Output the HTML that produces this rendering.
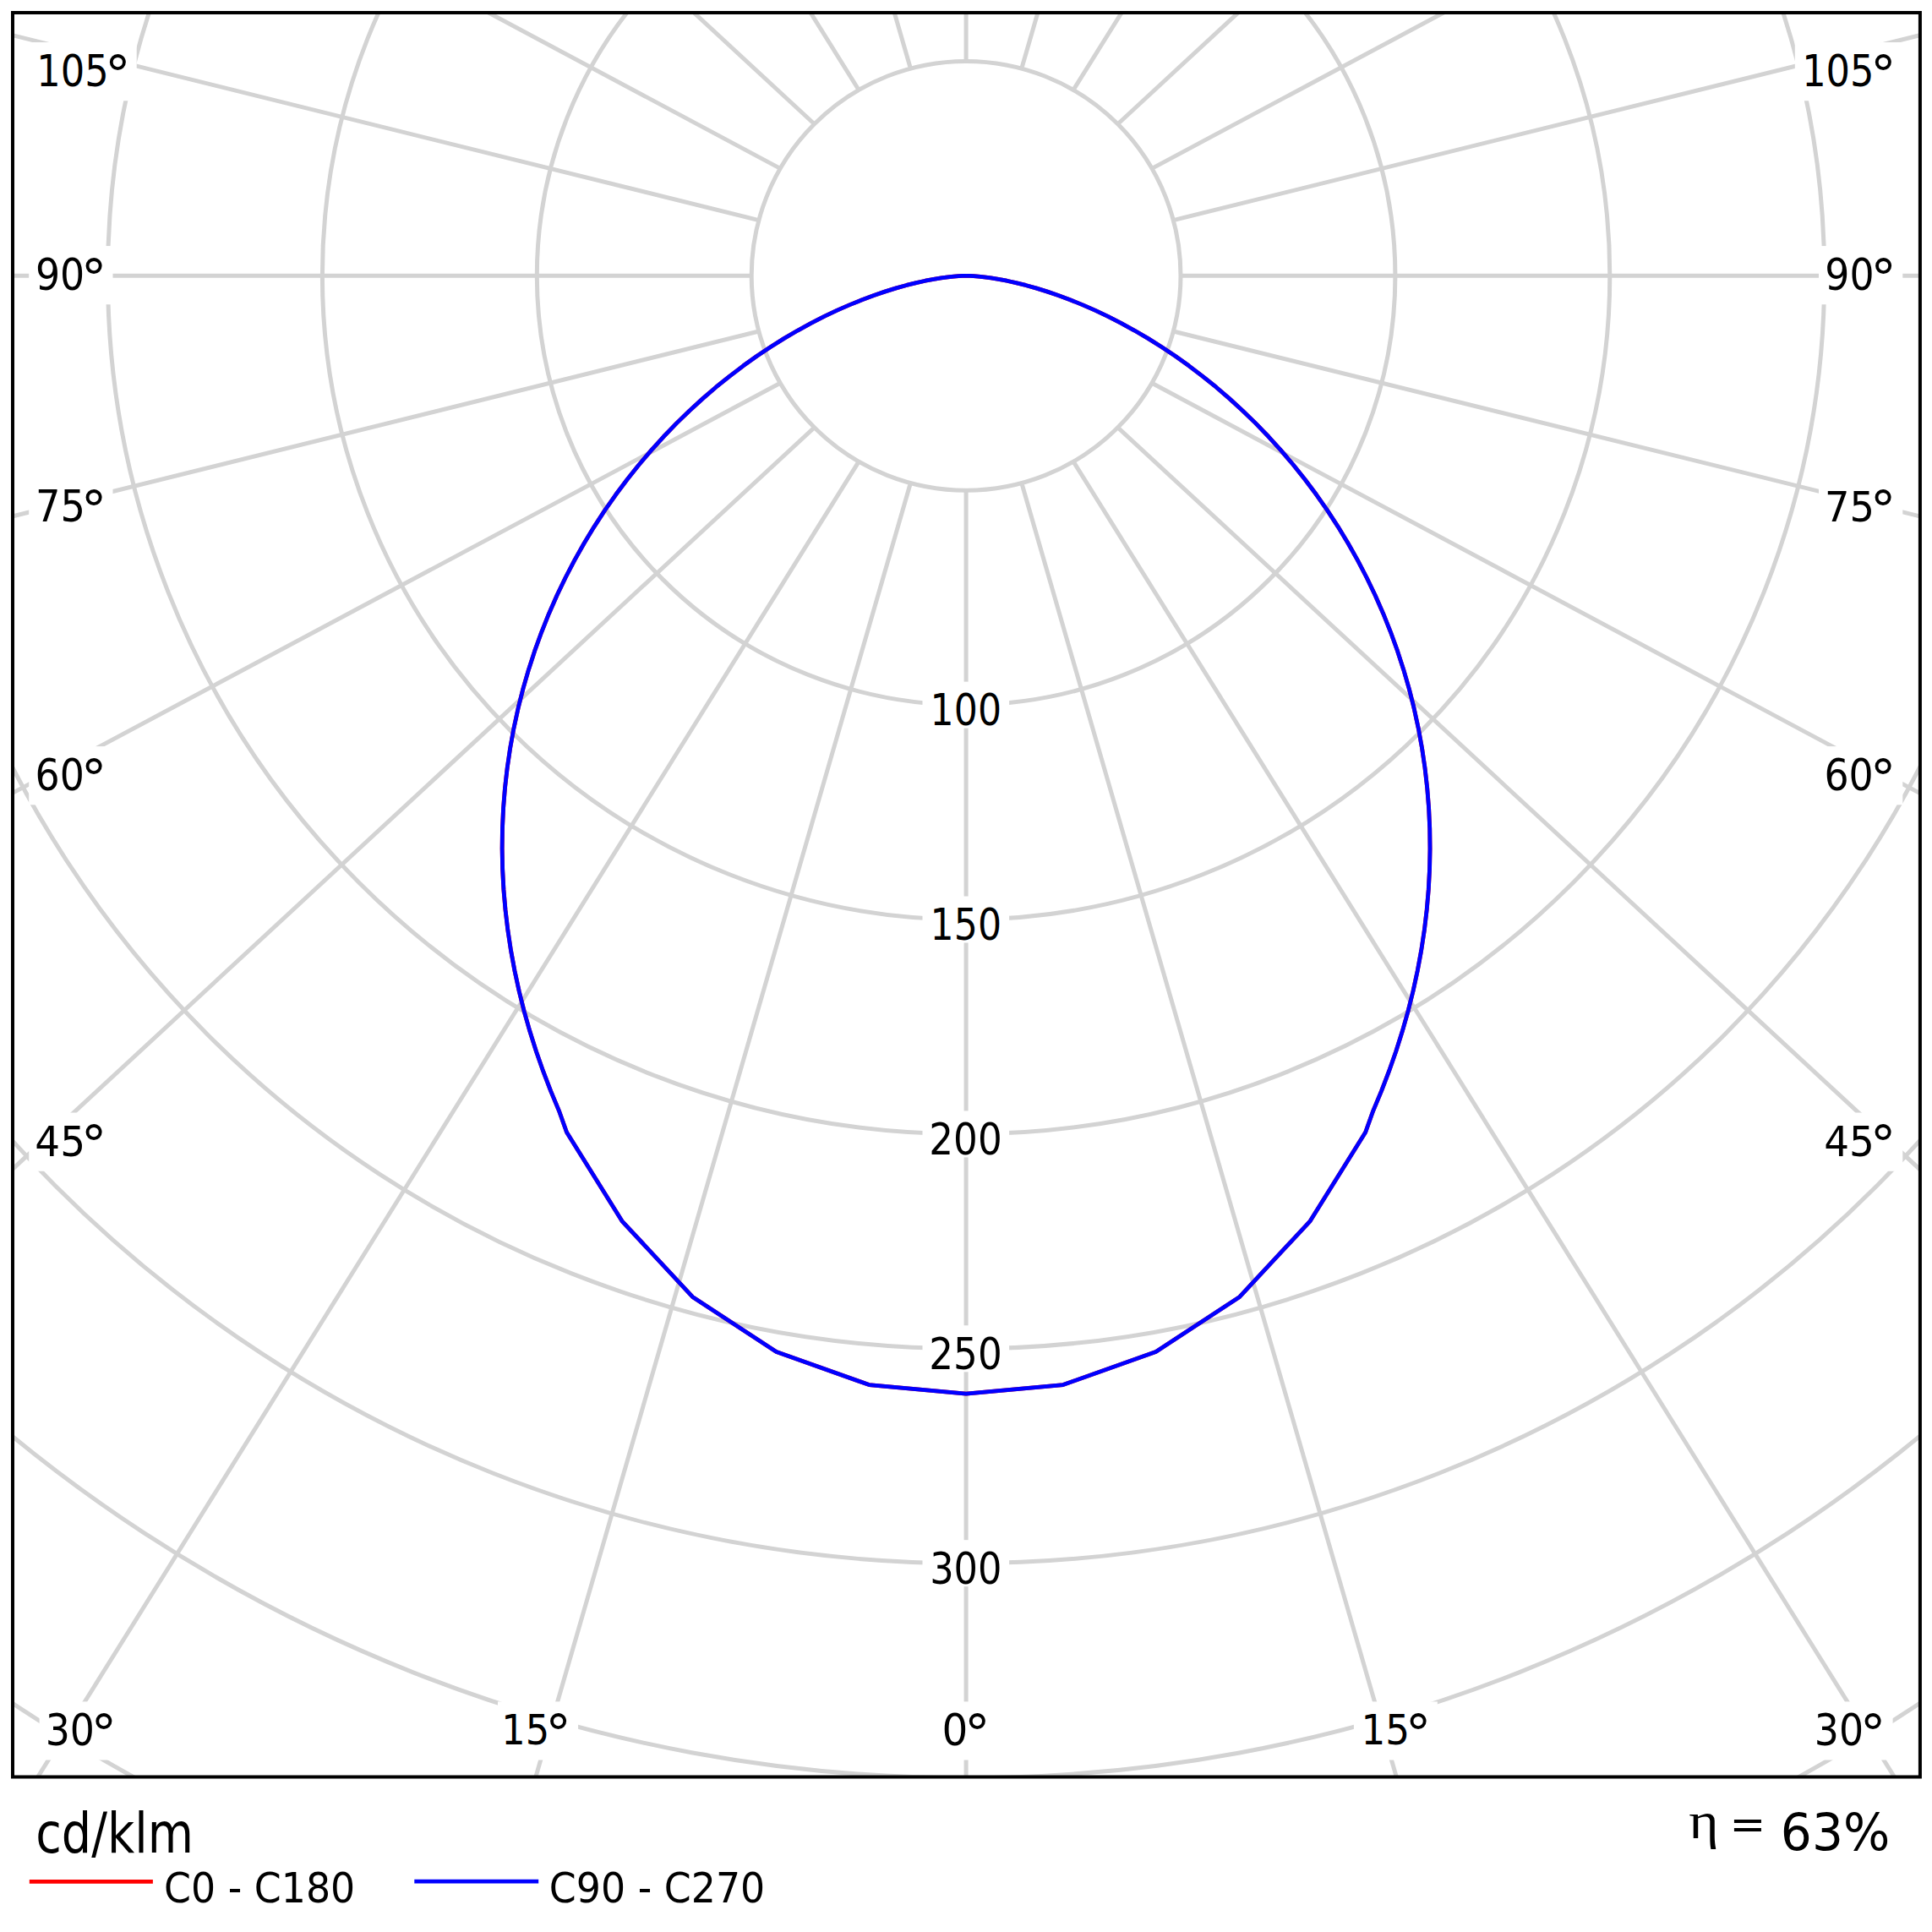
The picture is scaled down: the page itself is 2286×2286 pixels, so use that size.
<!DOCTYPE html><html><head><meta charset="utf-8"><title>Polar diagram</title>
<style>html,body{margin:0;padding:0;background:#fff;}svg{display:block;}</style></head><body>
<svg width="2286" height="2286" viewBox="0 0 2286 2286">
<rect width="2286" height="2286" fill="#fff"/>
<defs><clipPath id="c"><rect x="15" y="15" width="2256.9" height="2087.5"/></clipPath></defs>
<g clip-path="url(#c)" fill="none" stroke="#d3d3d3" stroke-width="5">
<circle cx="1143.1" cy="326.3" r="253.9"/>
<circle cx="1143.1" cy="326.3" r="507.8"/>
<circle cx="1143.1" cy="326.3" r="761.7"/>
<circle cx="1143.1" cy="326.3" r="1015.6"/>
<circle cx="1143.1" cy="326.3" r="1269.5"/>
<circle cx="1143.1" cy="326.3" r="1523.4"/>
<circle cx="1143.1" cy="326.3" r="1777.3"/>
<circle cx="1143.1" cy="326.3" r="2031.2"/>
<circle cx="1143.1" cy="326.3" r="2285.1"/>
<line x1="1143.1" y1="580.2" x2="1143.1" y2="3580.2"/>
<line x1="1208.81" y1="571.55" x2="2043.52" y2="3453.09"/>
<line x1="1270.05" y1="546.18" x2="2858.51" y2="3091.14"/>
<line x1="1322.63" y1="505.83" x2="3524.93" y2="2542.96"/>
<line x1="1362.98" y1="453.25" x2="4009.26" y2="1866.49"/>
<line x1="1388.35" y1="392.01" x2="4300.24" y2="1113.74"/>
<line x1="1397" y1="326.3" x2="4397" y2="326.3"/>
<line x1="1388.35" y1="260.59" x2="4300.24" y2="-461.14"/>
<line x1="1362.98" y1="199.35" x2="4009.26" y2="-1213.89"/>
<line x1="1322.63" y1="146.77" x2="3524.93" y2="-1890.36"/>
<line x1="1270.05" y1="106.42" x2="2858.51" y2="-2438.54"/>
<line x1="1208.81" y1="81.05" x2="2043.52" y2="-2800.49"/>
<line x1="1143.1" y1="72.4" x2="1143.1" y2="-2927.6"/>
<line x1="1077.39" y1="81.05" x2="242.68" y2="-2800.49"/>
<line x1="1016.15" y1="106.42" x2="-572.31" y2="-2438.54"/>
<line x1="963.57" y1="146.77" x2="-1238.73" y2="-1890.36"/>
<line x1="923.22" y1="199.35" x2="-1723.06" y2="-1213.89"/>
<line x1="897.85" y1="260.59" x2="-2014.04" y2="-461.14"/>
<line x1="889.2" y1="326.3" x2="-2110.8" y2="326.3"/>
<line x1="897.85" y1="392.01" x2="-2014.04" y2="1113.74"/>
<line x1="923.22" y1="453.25" x2="-1723.06" y2="1866.49"/>
<line x1="963.57" y1="505.83" x2="-1238.73" y2="2542.96"/>
<line x1="1016.15" y1="546.18" x2="-572.31" y2="3091.14"/>
<line x1="1077.39" y1="571.55" x2="242.68" y2="3453.09"/>
</g>
<g fill="#fff">
<rect x="34.2" y="50.05" width="127.5" height="69.2"/>
<rect x="2123.8" y="50.05" width="127.5" height="69.2"/>
<rect x="34.2" y="291.05" width="99.3" height="69.2"/>
<rect x="2152" y="291.05" width="99.3" height="69.2"/>
<rect x="34.2" y="565.2" width="99.3" height="69.2"/>
<rect x="2152" y="565.2" width="99.3" height="69.2"/>
<rect x="34.2" y="883.1" width="99.3" height="69.2"/>
<rect x="2152" y="883.1" width="99.3" height="69.2"/>
<rect x="34.2" y="1316.55" width="99.3" height="69.2"/>
<rect x="2152" y="1316.55" width="99.3" height="69.2"/>
<rect x="46.6" y="2013.4" width="99.3" height="69.1"/>
<rect x="589" y="2013.4" width="95.1" height="69.1"/>
<rect x="1107" y="2013.4" width="71" height="69.1"/>
<rect x="1601.9" y="2013.4" width="98.9" height="69.1"/>
<rect x="2140.3" y="2013.4" width="99.3" height="69.1"/>
<rect x="1091.5" y="806.6" width="102.6" height="55"/>
<rect x="1091.5" y="1060.5" width="102.6" height="55"/>
<rect x="1091.5" y="1314.4" width="102.6" height="55"/>
<rect x="1091.5" y="1568.3" width="102.6" height="55"/>
<rect x="1091.5" y="1822.2" width="102.6" height="55"/>
</g>
<polyline fill="none" stroke="#ff0000" stroke-width="4.8" stroke-linejoin="round" points="1143.1,326.3 1138.81,326.37 1134.22,326.61 1128.46,327.07 1121.58,327.8 1113.65,328.88 1104.74,330.33 1094.9,332.22 1084.19,334.58 1072.7,337.45 1060.46,340.87 1047.57,344.87 1034.06,349.48 1020.02,354.72 1005.5,360.61 990.56,367.17 975.27,374.42 959.69,382.37 943.88,391.03 927.89,400.4 911.79,410.49 895.63,421.29 879.47,432.81 863.35,445.04 847.34,457.98 831.49,471.61 815.83,485.92 800.42,500.9 785.31,516.54 770.53,532.82 756.14,549.71 742.16,567.21 728.64,585.28 715.61,603.91 703.11,623.08 691.17,642.74 679.82,662.9 669.08,683.5 658.98,704.54 649.55,725.97 640.8,747.78 632.76,769.93 625.45,792.4 618.87,815.15 613.05,838.16 607.99,861.41 603.71,884.85 600.21,908.48 597.5,932.25 595.59,956.14 594.47,980.13 594.15,1004.19 594.64,1028.3 595.92,1052.43 598,1076.56 600.87,1100.68 604.54,1124.75 608.98,1148.77 614.2,1172.72 620.19,1196.57 626.94,1220.32 634.44,1243.95 642.68,1267.46 651.65,1290.83 661.34,1314.05 670.54,1339.71 736,1444.8 819.39,1534.39 918.6,1599.52 1028.3,1638.52 1143.1,1649.12 1257.9,1638.52 1367.6,1599.52 1466.81,1534.39 1550.2,1444.8 1615.66,1339.71 1624.86,1314.05 1634.55,1290.83 1643.52,1267.46 1651.76,1243.95 1659.26,1220.32 1666.01,1196.57 1672,1172.72 1677.22,1148.77 1681.66,1124.75 1685.33,1100.68 1688.2,1076.56 1690.28,1052.43 1691.56,1028.3 1692.05,1004.19 1691.73,980.13 1690.61,956.14 1688.7,932.25 1685.99,908.48 1682.49,884.85 1678.21,861.41 1673.15,838.16 1667.33,815.15 1660.75,792.4 1653.44,769.93 1645.4,747.78 1636.65,725.97 1627.22,704.54 1617.12,683.5 1606.38,662.9 1595.03,642.74 1583.09,623.08 1570.59,603.91 1557.56,585.28 1544.04,567.21 1530.06,549.71 1515.67,532.82 1500.89,516.54 1485.78,500.9 1470.37,485.92 1454.71,471.61 1438.86,457.98 1422.85,445.04 1406.73,432.81 1390.57,421.29 1374.41,410.49 1358.31,400.4 1342.32,391.03 1326.51,382.37 1310.93,374.42 1295.64,367.17 1280.7,360.61 1266.18,354.72 1252.14,349.48 1238.63,344.87 1225.74,340.87 1213.5,337.45 1202.01,334.58 1191.3,332.22 1181.46,330.33 1172.55,328.88 1164.62,327.8 1157.74,327.07 1151.98,326.61 1147.39,326.37 1143.1,326.3"/>
<polyline fill="none" stroke="#0000ff" stroke-width="4.8" stroke-linejoin="round" points="1143.1,326.3 1138.81,326.37 1134.22,326.61 1128.46,327.07 1121.58,327.8 1113.65,328.88 1104.74,330.33 1094.9,332.22 1084.19,334.58 1072.7,337.45 1060.46,340.87 1047.57,344.87 1034.06,349.48 1020.02,354.72 1005.5,360.61 990.56,367.17 975.27,374.42 959.69,382.37 943.88,391.03 927.89,400.4 911.79,410.49 895.63,421.29 879.47,432.81 863.35,445.04 847.34,457.98 831.49,471.61 815.83,485.92 800.42,500.9 785.31,516.54 770.53,532.82 756.14,549.71 742.16,567.21 728.64,585.28 715.61,603.91 703.11,623.08 691.17,642.74 679.82,662.9 669.08,683.5 658.98,704.54 649.55,725.97 640.8,747.78 632.76,769.93 625.45,792.4 618.87,815.15 613.05,838.16 607.99,861.41 603.71,884.85 600.21,908.48 597.5,932.25 595.59,956.14 594.47,980.13 594.15,1004.19 594.64,1028.3 595.92,1052.43 598,1076.56 600.87,1100.68 604.54,1124.75 608.98,1148.77 614.2,1172.72 620.19,1196.57 626.94,1220.32 634.44,1243.95 642.68,1267.46 651.65,1290.83 661.34,1314.05 670.54,1339.71 736,1444.8 819.39,1534.39 918.6,1599.52 1028.3,1638.52 1143.1,1649.12 1257.9,1638.52 1367.6,1599.52 1466.81,1534.39 1550.2,1444.8 1615.66,1339.71 1624.86,1314.05 1634.55,1290.83 1643.52,1267.46 1651.76,1243.95 1659.26,1220.32 1666.01,1196.57 1672,1172.72 1677.22,1148.77 1681.66,1124.75 1685.33,1100.68 1688.2,1076.56 1690.28,1052.43 1691.56,1028.3 1692.05,1004.19 1691.73,980.13 1690.61,956.14 1688.7,932.25 1685.99,908.48 1682.49,884.85 1678.21,861.41 1673.15,838.16 1667.33,815.15 1660.75,792.4 1653.44,769.93 1645.4,747.78 1636.65,725.97 1627.22,704.54 1617.12,683.5 1606.38,662.9 1595.03,642.74 1583.09,623.08 1570.59,603.91 1557.56,585.28 1544.04,567.21 1530.06,549.71 1515.67,532.82 1500.89,516.54 1485.78,500.9 1470.37,485.92 1454.71,471.61 1438.86,457.98 1422.85,445.04 1406.73,432.81 1390.57,421.29 1374.41,410.49 1358.31,400.4 1342.32,391.03 1326.51,382.37 1310.93,374.42 1295.64,367.17 1280.7,360.61 1266.18,354.72 1252.14,349.48 1238.63,344.87 1225.74,340.87 1213.5,337.45 1202.01,334.58 1191.3,332.22 1181.46,330.33 1172.55,328.88 1164.62,327.8 1157.74,327.07 1151.98,326.61 1147.39,326.37 1143.1,326.3"/>
<rect x="15" y="15" width="2256.9" height="2087.5" fill="none" stroke="#000" stroke-width="4"/>
<g fill="#000">
<text transform="matrix(0.84 0 0 0.96 43.25 101.64)" font-family="DejaVu Sans, sans-serif" font-size="53.3">105</text>
<text transform="matrix(0.99 0 0 0.99 123.96 109.82)" font-family="DejaVu Sans, sans-serif" font-size="62">°</text>
<text transform="matrix(0.86 0 0 0.97 41.93 342.93)" font-family="DejaVu Sans, sans-serif" font-size="53.3">90</text>
<text transform="matrix(0.99 0 0 0.99 95.86 350.52)" font-family="DejaVu Sans, sans-serif" font-size="62">°</text>
<text transform="matrix(0.87 0 0 0.97 42.02 617.03)" font-family="DejaVu Sans, sans-serif" font-size="53.3">75</text>
<text transform="matrix(0.99 0 0 0.99 95.86 624.72)" font-family="DejaVu Sans, sans-serif" font-size="62">°</text>
<text transform="matrix(0.86 0 0 0.97 41.55 934.93)" font-family="DejaVu Sans, sans-serif" font-size="53.3">60</text>
<text transform="matrix(0.99 0 0 0.99 95.86 942.62)" font-family="DejaVu Sans, sans-serif" font-size="62">°</text>
<text transform="matrix(0.88 0 0 0.95 41.36 1368.05)" font-family="DejaVu Sans, sans-serif" font-size="53.3">45</text>
<text transform="matrix(0.99 0 0 0.99 95.86 1376.42)" font-family="DejaVu Sans, sans-serif" font-size="62">°</text>
<text transform="matrix(0.84 0 0 0.96 2132.14 101.64)" font-family="DejaVu Sans, sans-serif" font-size="53.3">105</text>
<text transform="matrix(0.99 0 0 0.99 2212.96 109.82)" font-family="DejaVu Sans, sans-serif" font-size="62">°</text>
<text transform="matrix(0.86 0 0 0.97 2159.23 342.93)" font-family="DejaVu Sans, sans-serif" font-size="53.3">90</text>
<text transform="matrix(0.99 0 0 0.99 2213.16 350.52)" font-family="DejaVu Sans, sans-serif" font-size="62">°</text>
<text transform="matrix(0.87 0 0 0.95 2158.93 616.65)" font-family="DejaVu Sans, sans-serif" font-size="53.3">75</text>
<text transform="matrix(0.99 0 0 0.99 2212.66 625.02)" font-family="DejaVu Sans, sans-serif" font-size="62">°</text>
<text transform="matrix(0.86 0 0 0.97 2158.45 934.93)" font-family="DejaVu Sans, sans-serif" font-size="53.3">60</text>
<text transform="matrix(0.99 0 0 0.99 2212.76 942.62)" font-family="DejaVu Sans, sans-serif" font-size="62">°</text>
<text transform="matrix(0.88 0 0 0.95 2158.26 1368.05)" font-family="DejaVu Sans, sans-serif" font-size="53.3">45</text>
<text transform="matrix(0.99 0 0 0.99 2212.76 1376.42)" font-family="DejaVu Sans, sans-serif" font-size="62">°</text>
<text transform="matrix(0.86 0 0 0.98 53.67 2065.22)" font-family="DejaVu Sans, sans-serif" font-size="53.3">30</text>
<text transform="matrix(0.99 0 0 0.99 107.56 2072.62)" font-family="DejaVu Sans, sans-serif" font-size="62">°</text>
<text transform="matrix(0.84 0 0 0.95 593.25 2064.35)" font-family="DejaVu Sans, sans-serif" font-size="53.3">15</text>
<text transform="matrix(0.99 0 0 0.99 645.36 2072.72)" font-family="DejaVu Sans, sans-serif" font-size="62">°</text>
<text transform="matrix(0.91 0 0 0.97 1114.55 2064.83)" font-family="DejaVu Sans, sans-serif" font-size="53.3">0</text>
<text transform="matrix(0.99 0 0 0.99 1140.96 2072.52)" font-family="DejaVu Sans, sans-serif" font-size="62">°</text>
<text transform="matrix(0.85 0 0 0.95 1610.42 2064.35)" font-family="DejaVu Sans, sans-serif" font-size="53.3">15</text>
<text transform="matrix(0.99 0 0 0.99 1662.86 2072.72)" font-family="DejaVu Sans, sans-serif" font-size="62">°</text>
<text transform="matrix(0.86 0 0 0.98 2146.87 2065.22)" font-family="DejaVu Sans, sans-serif" font-size="53.3">30</text>
<text transform="matrix(0.99 0 0 0.99 2200.76 2072.62)" font-family="DejaVu Sans, sans-serif" font-size="62">°</text>
<text transform="matrix(0.83 0 0 0.96 1100.62 857.74)" font-family="DejaVu Sans, sans-serif" font-size="53.3">100</text>
<text transform="matrix(0.83 0 0 0.97 1100.62 1111.83)" font-family="DejaVu Sans, sans-serif" font-size="53.3">150</text>
<text transform="matrix(0.85 0 0 0.98 1099.31 1366.02)" font-family="DejaVu Sans, sans-serif" font-size="53.3">200</text>
<text transform="matrix(0.85 0 0 0.98 1099.31 1619.92)" font-family="DejaVu Sans, sans-serif" font-size="53.3">250</text>
<text transform="matrix(0.84 0 0 0.98 1100.15 1873.82)" font-family="DejaVu Sans, sans-serif" font-size="53.3">300</text>
<text transform="matrix(0.87 0 0 1.04 42.21 2192.48)" font-family="DejaVu Sans, sans-serif" font-size="64">cd/klm</text>
<text transform="matrix(0.86 0 0 0.95 193.92 2250.55)" font-family="DejaVu Sans, sans-serif" font-size="53.3">C0 - C180</text>
<text transform="matrix(0.86 0 0 0.95 649.83 2250.55)" font-family="DejaVu Sans, sans-serif" font-size="53.3">C90 - C270</text>
<text transform="matrix(1.06 0 0 0.95 1998.34 2175.44)" font-family="Liberation Serif, serif" font-size="64">η</text>
<text transform="matrix(0.96 0 0 0.91 2046.44 2174.82)" font-family="DejaVu Sans, sans-serif" font-size="53.3">=</text>
<text transform="matrix(0.91 0 0 0.94 2106.85 2188.56)" font-family="DejaVu Sans, sans-serif" font-size="64">63%</text>
</g>
<line x1="34.8" y1="2226.3" x2="180.9" y2="2226.3" stroke="#ff0000" stroke-width="4.8"/>
<line x1="490.3" y1="2226.1" x2="637.2" y2="2226.1" stroke="#0000ff" stroke-width="4.8"/>
</svg></body></html>
